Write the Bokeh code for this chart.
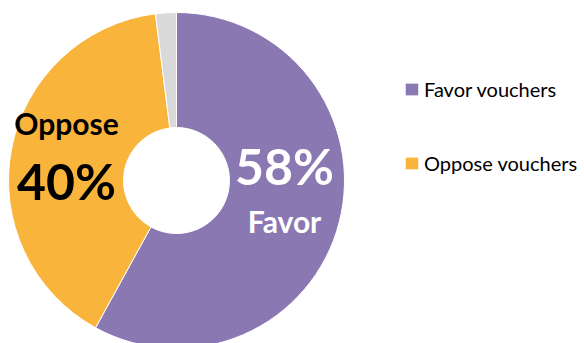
import numpy as np
from bokeh.plotting import figure
from bokeh.models import ColumnDataSource, Range1d, Legend, LegendItem
from bokeh.core.properties import value
from bokeh.embed import file_html
from bokeh.resources import INLINE

categories = ["Favor vouchers", "Oppose vouchers", "Unsure"]
values = [58, 40, 2]
colors = ["#8A78B2", "#F9B43B", "#D9D9D9"]
big_labels = ["58%", "40%"]
small_labels = ["Favor", "Oppose"]

# geometry (screen px -> data: x = px, y = 343 - px)
cx, cy = 176, 343 - 180
r_out, r_in = 168, 53

vals = np.array(values, dtype=float)
frac = vals / vals.sum()
ends = np.pi / 2 - np.cumsum(frac) * 2 * np.pi
starts = np.concatenate([[np.pi / 2], ends[:-1]])

p = figure(width=584, height=343, output_backend="svg", toolbar_location=None,
           x_range=Range1d(0, 584), y_range=Range1d(0, 343), min_border=0)
p.axis.visible = False
p.grid.visible = False
p.outline_line_color = None
p.background_fill_color = "white"

wedges = []
for i in range(len(categories)):
    r = p.annular_wedge(x=cx, y=cy, inner_radius=r_in, outer_radius=r_out,
                        start_angle=starts[i], end_angle=ends[i], direction="clock",
                        fill_color=colors[i], line_color="white", line_width=1)
    wedges.append(r)

# labels
p.text(x=[cx + 108], y=[178], text=[big_labels[0]], text_color="white",
       text_font=value("Lato"), text_font_style="bold", text_font_size="50px",
       text_align="center", text_baseline="alphabetic")
p.text(x=[cx + 108], y=[123], text=[small_labels[0]], text_color="white",
       text_font=value("Lato"), text_font_style="bold", text_font_size="30px",
       text_align="center", text_baseline="alphabetic")
p.text(x=[cx - 110], y=[221], text=[small_labels[1]], text_color="black",
       text_font=value("Lato"), text_font_style="bold", text_font_size="30px",
       text_align="center", text_baseline="alphabetic")
p.text(x=[cx - 110], y=[163], text=[big_labels[1]], text_color="black",
       text_font=value("Lato"), text_font_style="bold", text_font_size="50px",
       text_align="center", text_baseline="alphabetic")

legend = Legend(items=[LegendItem(label=categories[0], renderers=[wedges[0]]),
                       LegendItem(label=categories[1], renderers=[wedges[1]])],
                location=(403, 168), padding=0, margin=0, spacing=50,
                glyph_width=17, glyph_height=16, label_standoff=4,
                label_text_font="Lato", label_text_font_size="20px",
                label_text_color="black", border_line_color=None,
                background_fill_alpha=0)
p.add_layout(legend, "center")

open("out.html", "w").write(file_html(p, INLINE))
